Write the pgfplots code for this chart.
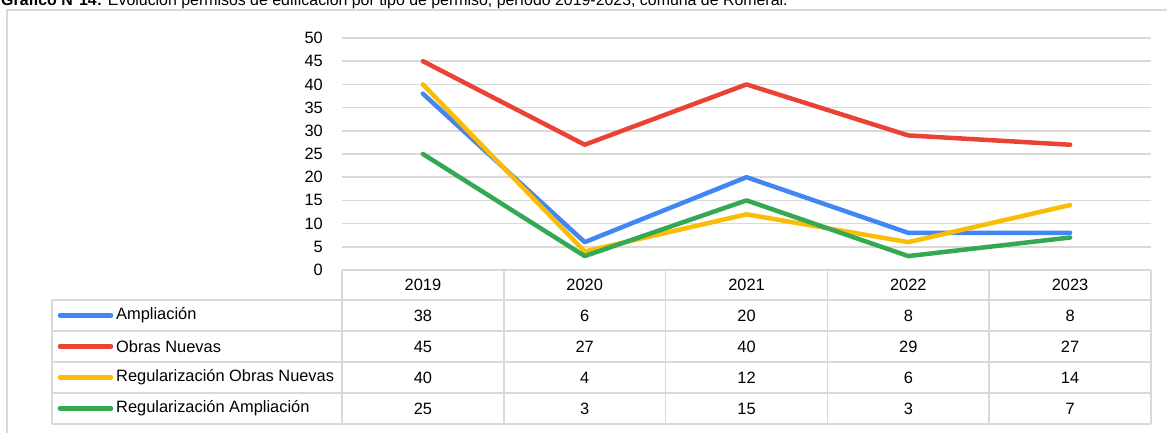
\documentclass[border=0pt]{standalone}
\usepackage{fontspec}
\setmainfont{Liberation Sans}
\usepackage{pgfplots}
\pgfplotsset{compat=1.18}
\definecolor{cblue}{HTML}{4285F4}
\definecolor{cred}{HTML}{EA4335}
\definecolor{cyellow}{HTML}{FBBC04}
\definecolor{cgreen}{HTML}{34A853}
\definecolor{gridc}{HTML}{D9D9D9}
\newcommand{\fs}{\fontsize{16.4}{19}\selectfont}
\newcommand{\ft}{\fontsize{15.9}{19}\selectfont}
\begin{document}
\begin{tikzpicture}[x=1pt,y=1pt]
\useasboundingbox (0,0) rectangle (1167,433);
\begin{scope}
\clip (0,0) rectangle (1167,433);
\draw[gridc, line width=1.3pt] (7,-20) -- (7,423) -- (1200,423);
\node[anchor=base west, inner sep=0pt, font=\ft] at (1,427) {\textbf{Gráfico N°14:} Evolución permisos de edificación por tipo de permiso, período 2019-2023, comuna de Romeral.};
\end{scope}
% table grid
\foreach \y in {133,102,71,40,9} \draw[gridc, line width=1.5pt] (52,\y) -- (1151,\y);
\draw[gridc, line width=1.5pt] (52,133) -- (52,9);
\foreach \x in {342,503.8,665.6,827.4,989.2,1151} \draw[gridc, line width=1.5pt] (\x,163) -- (\x,9);
\begin{axis}[
  at={(342pt,163pt)}, anchor=south west, scale only axis,
  width=809pt, height=232pt,
  xmin=-0.5, xmax=4.5, ymin=0, ymax=50,
  ytick={0,5,...,50}, xtick=\empty,
  axis line style={draw=none},
  ymajorgrids, grid style={gridc, line width=1.5pt},
  major tick length=0pt,
  /pgf/number format/assume math mode=true,
  yticklabel style={font=\fs, anchor=east, inner sep=0pt, xshift=-19pt},
  clip=false,
  every axis plot/.append style={line width=4.5pt, line cap=round, line join=round, no marks},
]
\addplot[cblue] coordinates {(0,38) (1,6) (2,20) (3,8) (4,8)};
\addplot[cred] coordinates {(0,45) (1,27) (2,40) (3,29) (4,27)};
\addplot[cyellow] coordinates {(0,40) (1,4) (2,12) (3,6) (4,14)};
\addplot[cgreen] coordinates {(0,25) (1,3) (2,15) (3,3) (4,7)};
\end{axis}
% header years
\foreach \yr [count=\i from 0] in {2019,2020,2021,2022,2023}
  \node[font=\fs, inner sep=0pt] at (422.9+161.8*\i,148) {\yr};
% rows
\foreach \c/\lab/\vals [count=\r from 0] in {
  cblue/Ampliación/{38,6,20,8,8},
  cred/Obras Nuevas/{45,27,40,29,27},
  cyellow/Regularización Obras Nuevas/{40,4,12,6,14},
  cgreen/Regularización Ampliación/{25,3,15,3,7}} {
  \pgfmathsetmacro{\yc}{117.5-31*\r}
  \draw[\c, line width=4.5pt, line cap=round] (60,\yc) -- (111,\yc);
  \node[font=\fs, anchor=west, inner sep=0pt] at (116,\yc) {\lab};
  \foreach \v [count=\j from 0] in \vals
    \node[font=\fs, inner sep=0pt] at (422.9+161.8*\j,\yc) {\v};
}
\end{tikzpicture}
\end{document}
